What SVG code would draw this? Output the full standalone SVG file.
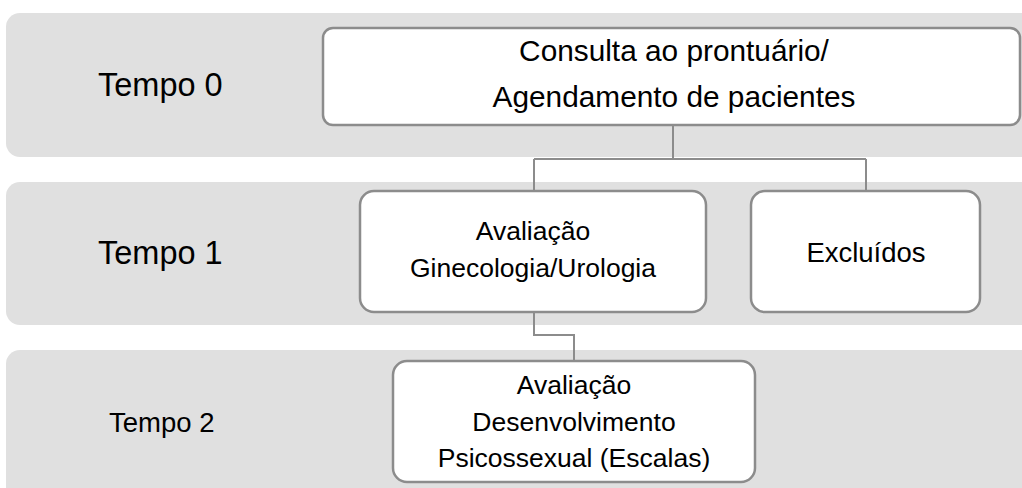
<svg xmlns="http://www.w3.org/2000/svg" width="1022" height="488" viewBox="0 0 1022 488">
<style>
.band{fill:#e0e0e0;}
.node{fill:#ffffff;stroke:#8c8c8c;stroke-width:2.5;}
.conn{fill:none;stroke:#8c8c8c;stroke-width:2;}
.lbl{font-family:"Liberation Sans",Arial,sans-serif;fill:#000;}
.t{font-family:"Liberation Sans",Arial,sans-serif;fill:#000;text-anchor:middle;}
.s26{font-size:26.5px;}
.s30{font-size:29.8px;}
</style>
<rect width="1022" height="488" fill="#ffffff"/>
<g id="band0"><rect class="band" x="6" y="13" width="1040" height="144" rx="14"/><text class="lbl" x="98" y="96" style="font-size:32.5px">Tempo 0</text></g>
<g id="band1"><rect class="band" x="6" y="182" width="1040" height="143" rx="14"/><text class="lbl" x="98" y="264" style="font-size:32.5px">Tempo 1</text></g>
<g id="band2"><rect class="band" x="6" y="350" width="1040" height="160" rx="14"/><text class="lbl" x="109" y="432" style="font-size:27.5px">Tempo 2</text></g>
<g id="connectors">
<path class="conn" d="M673,125 V159 M534,159 H866 M534,159 V191 M866,159 V191"/>
<path class="conn" d="M534,312 V335 H574 V361"/>
</g>
<g id="node-consulta"><rect class="node" x="323" y="28" width="697" height="97" rx="10"/>
<text class="t s30" x="674" y="61">Consulta ao prontuário/</text>
<text class="t s30" x="674" y="107">Agendamento de pacientes</text></g>
<g id="node-ginec"><rect class="node" x="360" y="191" width="346" height="121" rx="14"/>
<text class="t s26" x="533" y="240">Avaliação</text>
<text class="t s26" x="533" y="277">Ginecologia/Urologia</text></g>
<g id="node-excl"><rect class="node" x="751" y="191" width="229" height="121" rx="14"/>
<text class="t" x="866" y="262" style="font-size:27.5px">Excluídos</text></g>
<g id="node-psico"><rect class="node" x="393" y="361" width="362" height="121" rx="14"/>
<text class="t s26" x="574" y="394">Avaliação</text>
<text class="t s26" x="574" y="431">Desenvolvimento</text>
<text class="t s26" x="574" y="467">Psicossexual (Escalas)</text></g>
</svg>
